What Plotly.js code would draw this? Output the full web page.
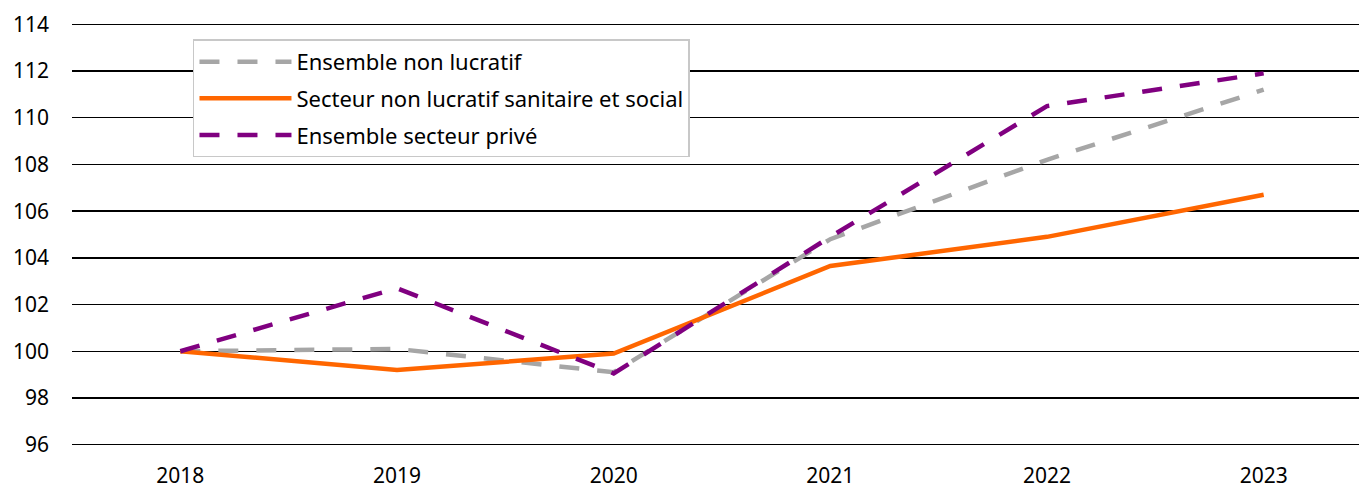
<!DOCTYPE html>
<html>
<head>
<meta charset="utf-8">
<script src="https://cdn.plot.ly/plotly-3.0.1.min.js"></script>
<style>html,body{margin:0;padding:0;background:#fff;}#chart{width:1359px;height:491px;}</style>
</head>
<body>
<div id="chart"></div>
<script>
const years = ["2018", "2019", "2020", "2021", "2022", "2023"];
const ensembleNonLucratif = [100, 100.1, 99.1, 104.8, 108.2, 111.2];
const secteurSanitaireSocial = [100, 99.2, 99.9, 103.65, 104.9, 106.7];
const ensembleSecteurPrive = [100, 102.7, 99.05, 104.9, 110.5, 111.9];
const seriesNames = ["Ensemble non lucratif", "Secteur non lucratif sanitaire et social", "Ensemble secteur privé"];
const yTicks = [96, 98, 100, 102, 104, 106, 108, 110, 112, 114];

const traces = [
  {x: years, y: ensembleNonLucratif, name: seriesNames[0], type: "scatter", mode: "lines", legendgroup: "a",
   line: {color: "#a6a6a6", width: 4.5, dash: "20px,18px"}},
  {x: years, y: secteurSanitaireSocial, name: seriesNames[1], type: "scatter", mode: "lines", legendgroup: "b",
   line: {color: "#ff6600", width: 4.5}},
  {x: years, y: ensembleSecteurPrive, name: seriesNames[2], type: "scatter", mode: "lines", legendgroup: "c",
   line: {color: "#800080", width: 4.5, dash: "20px,18px"}}
];

const layout = {
  width: 1359, height: 491,
  margin: {l: 72, r: 0, t: 22, b: 44, pad: 0},
  paper_bgcolor: "#fff", plot_bgcolor: "#fff",
  font: {family: "Noto Sans, Open Sans, sans-serif", size: 21, color: "#000"},
  showlegend: true,
  legend: {x: 0.094, y: 0.959, xanchor: "left", yanchor: "top",
    bgcolor: "#fff", bordercolor: "#c8c8c8", borderwidth: 1.5,
    font: {size: 22}, tracegroupgap: 5, itemwidth: 92, traceorder: "grouped"},
  xaxis: {type: "category", range: [-0.5, 5.44], showgrid: false, zeroline: false,
    showline: false, ticks: "", ticklabelstandoff: 14, fixedrange: true},
  yaxis: {range: [95.9, 114.1], tickvals: yTicks, ticktext: yTicks.map(String),
    showgrid: true, gridcolor: "#000", gridwidth: 1.5, zeroline: false, showline: false,
    ticks: "", ticklabelstandoff: 22, fixedrange: true}
};

Plotly.newPlot("chart", traces, layout, {displayModeBar: false, staticPlot: true});
</script>
</body>
</html>
